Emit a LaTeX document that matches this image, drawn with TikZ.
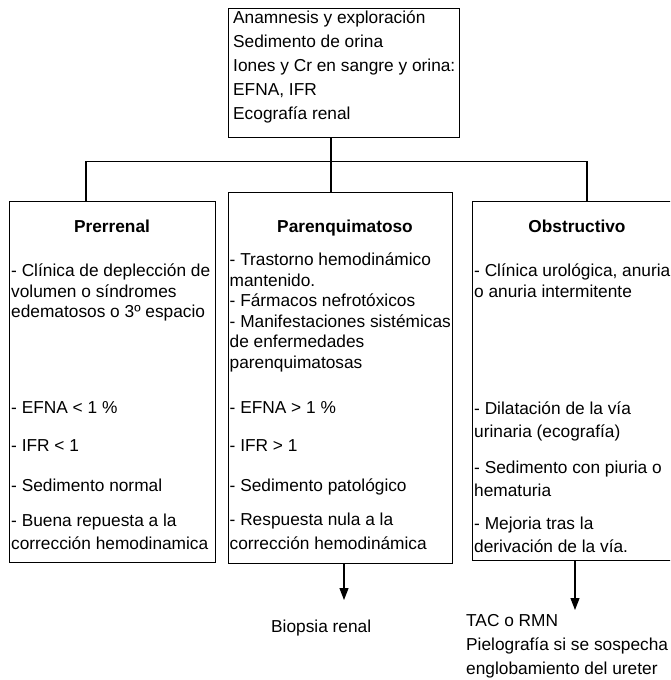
\documentclass[tikz,border=0pt]{standalone}
\usepackage{fontspec}
\setmainfont{Liberation Sans}
\usetikzlibrary{arrows.meta}

\begin{document}
\begin{tikzpicture}[x=1pt,y=-1pt,
  box/.style={draw, line width=1.2pt, inner sep=0pt, anchor=north west},
  wire/.style={line width=1.2pt},
  arr/.style={line width=1.2pt, -{Triangle[length=12pt,width=9pt]}},
  % multi-line text: the node is placed by the baseline of its last line
  txt/.style={inner sep=0pt, anchor=base west, align=left,
              font=\fontsize{17.3}{#1}\selectfont},
  txt/.default=20.7,
  ttl/.style={inner sep=0pt, anchor=base, font=\fontsize{17.3}{20.7}\selectfont\bfseries}]

\useasboundingbox (0,0) rectangle (670,680);
\clip (0,0) rectangle (670,680);

% frames
\node[box, minimum width=231, minimum height=128.7] (top)  at (228,8) {};
\node[box, minimum width=206, minimum height=361.3] (lbox) at (9,200.7) {};
\node[box, minimum width=224, minimum height=370.8] (mbox) at (228,191.7) {};
\node[box, minimum width=210, minimum height=359.3] (rbox) at (472,200.7) {};

% branching lines
\coordinate (hl) at (86,161.7);
\coordinate (hc) at (331,161.7);
\coordinate (hr) at (587,161.7);
\draw[wire] (top.south -| hc) -- (mbox.north -| hc);
\draw[wire] (lbox.north -| hl) -- (hl) -- (hr) -- (rbox.north -| hr);

% top box text
\node[txt=24] (ttop) at (233,119.8) {Anamnesis y exploración\\Sedimento de orina\\Iones y Cr en sangre y orina:\\EFNA, IFR\\Ecografía renal};

% titles
\node[ttl] (tl) at (112,232.7) {Prerrenal};
\node[ttl] (tm) at (345,232.7) {Parenquimatoso};
\node[ttl] (tr) at (577,232.7) {Obstructivo};

% Prerrenal column
\node[txt] (l1) at (11,317.9) {- Clínica de deplección de\\volumen o síndromes\\edematosos o 3º espacio};
\node[txt] (l2) at (11,413.5) {- EFNA < 1 \%};
\node[txt] (l3) at (11,451) {- IFR < 1};
\node[txt] (l4) at (11,491.5) {- Sedimento normal};
\node[txt=23] (l5) at (11,549) {- Buena repuesta a la\\corrección hemodinamica};

% Parenquimatoso column
\node[txt=20.6] (m1) at (229.5,368.5) {- Trastorno hemodinámico\\mantenido.\\- Fármacos nefrotóxicos\\- Manifestaciones sistémicas\\de enfermedades\\parenquimatosas};
\node[txt] (m2) at (229.5,413) {- EFNA > 1 \%};
\node[txt] (m3) at (229.5,451) {- IFR > 1};
\node[txt] (m4) at (229.5,491.5) {- Sedimento patológico};
\node[txt=24] (m5) at (229.5,549) {- Respuesta nula a la\\corrección hemodinámica};

% Obstructivo column
\node[txt=20.5] (r1) at (474,297) {- Clínica urológica, anuria\\o anuria intermitente};
\node[txt=23] (r2) at (474,437.5) {- Dilatación de la vía\\urinaria (ecografía)};
\node[txt=23] (r3) at (474,496.5) {- Sedimento con piuria o\\hematuria};
\node[txt=23] (r4) at (474,552.5) {- Mejoria tras la\\derivación de la vía.};

% follow-up arrows and results
\coordinate (ma) at (344,600);
\coordinate (ra) at (575,610);
\draw[arr] (mbox.south -| ma) -- (ma);
\draw[arr] (rbox.south -| ra) -- (ra);
\node[txt] (bio) at (271,632.5) {Biopsia renal};
\node[txt=24] (tac) at (466,674.5) {TAC o RMN\\Pielografía si se sospecha\\englobamiento del ureter};

\end{tikzpicture}
\end{document}
